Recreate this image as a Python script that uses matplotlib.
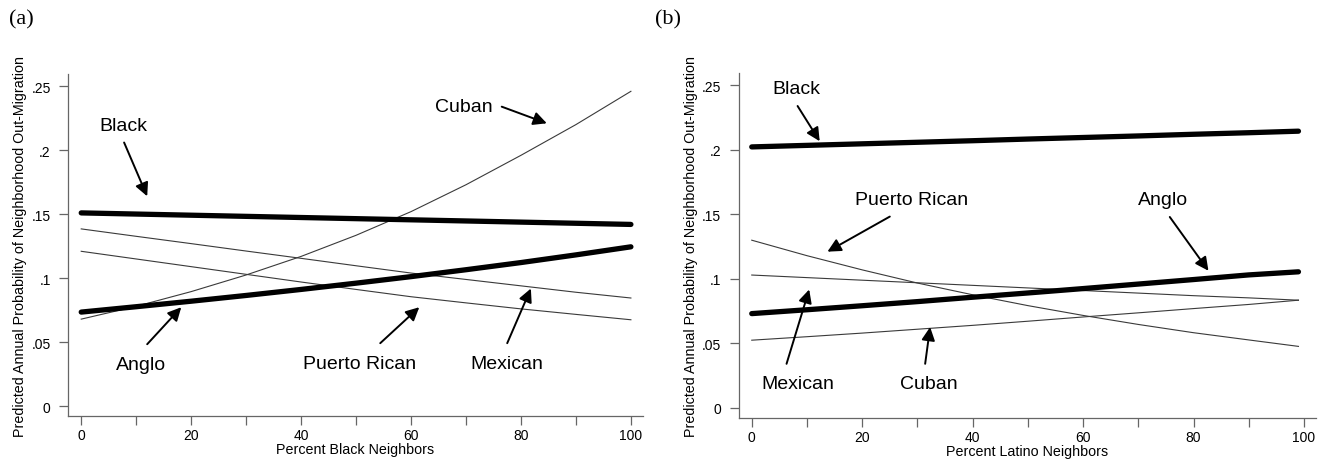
import matplotlib
matplotlib.use("Agg")
import matplotlib.pyplot as plt
from matplotlib.ticker import FixedLocator

plt.rcParams['font.family'] = ['Liberation Sans', 'DejaVu Sans']

# ---- data (a): Percent Black Neighbors ----
xa = [0, 10, 20, 30, 40, 50, 60, 70, 80, 90, 100]
a_black = [0.151, 0.1501, 0.1492, 0.1483, 0.1474, 0.1465, 0.1456, 0.1447, 0.1438, 0.1429, 0.142]
a_anglo = [0.0735, 0.0777, 0.082, 0.0865, 0.0912, 0.0961, 0.1012, 0.1066, 0.1122, 0.1182, 0.1245]
a_cuban = [0.068, 0.078, 0.0895, 0.1025, 0.117, 0.1335, 0.152, 0.173, 0.196, 0.220, 0.246]
a_mexican = [0.1385, 0.1327, 0.127, 0.1212, 0.1155, 0.1097, 0.104, 0.099, 0.094, 0.089, 0.0845]
a_puerto = [0.121, 0.115, 0.109, 0.103, 0.097, 0.0912, 0.0855, 0.0807, 0.076, 0.0717, 0.0675]

# ---- data (b): Percent Latino Neighbors ----
xb = [0, 10, 20, 30, 40, 50, 60, 70, 80, 90, 99]
b_black = [0.2023, 0.2035, 0.2047, 0.2059, 0.2071, 0.2084, 0.2096, 0.2108, 0.2121, 0.2133, 0.2145]
b_anglo = [0.0731, 0.0761, 0.0792, 0.0824, 0.0858, 0.0891, 0.0925, 0.096, 0.0995, 0.1031, 0.1055]
b_mexican = [0.103, 0.101, 0.099, 0.097, 0.095, 0.093, 0.091, 0.089, 0.087, 0.0853, 0.0835]
b_puerto = [0.130, 0.118, 0.107, 0.0968, 0.0877, 0.0793, 0.0717, 0.0647, 0.0583, 0.0527, 0.0477]
b_cuban = [0.0525, 0.0552, 0.058, 0.061, 0.064, 0.0672, 0.0705, 0.0737, 0.077, 0.0802, 0.0835]

yticks = [0, 0.05, 0.10, 0.15, 0.20, 0.25]
ytick_labels = ['0', '.05', '.1', '.15', '.2', '.25']
xticks = [0, 20, 40, 60, 80, 100]
xtick_labels = ['0', '20', '40', '60', '80', '100']
xminor = [10, 30, 50, 70, 90]

THICK = 3.8
THIN = 0.8
THIN_C = '#3a3a3a'
LBL = 14

fig = plt.figure(figsize=(13.34, 4.64), dpi=100)
axa = fig.add_axes([0.051, 0.101, 0.431, 0.737])
axb = fig.add_axes([0.5536, 0.097, 0.433, 0.743])


def style(ax, xlabel):
    ax.set_xlim(-2.4, 102.2)
    ax.set_ylim(-0.0078, 0.2594)
    for s in ['top', 'right']:
        ax.spines[s].set_visible(False)
    for s in ['left', 'bottom']:
        ax.spines[s].set_color('#666666')
        ax.spines[s].set_linewidth(0.9)
    ax.set_yticks(yticks)
    ax.set_yticklabels(ytick_labels)
    ax.xaxis.set_major_locator(FixedLocator(xticks))
    ax.set_xticklabels(xtick_labels)
    ax.xaxis.set_minor_locator(FixedLocator(xminor))
    ax.tick_params(axis='both', which='both', direction='out', length=6.5,
                   width=0.9, color='#666666', labelsize=10, pad=2)
    ax.tick_params(axis='y', pad=6)
    ax.set_xlabel(xlabel, fontsize=10.3, labelpad=0)
    ax.set_ylabel('Predicted Annual Probability of Neighborhood Out-Migration',
                  fontsize=10.3, labelpad=3)


def note(ax, text, tx, ty, sx, sy, ex, ey):
    ax.text(tx, ty, text, fontsize=LBL, ha='center', va='center')
    ax.annotate('', xy=(ex, ey), xytext=(sx, sy),
                arrowprops=dict(arrowstyle='-|>', mutation_scale=20, lw=1.4,
                                color='black', shrinkA=0, shrinkB=0))


# panel (a)
axa.plot(xa, a_cuban, color=THIN_C, lw=THIN)
axa.plot(xa, a_mexican, color=THIN_C, lw=THIN)
axa.plot(xa, a_puerto, color=THIN_C, lw=THIN)
axa.plot(xa, a_black, color='black', lw=THICK, solid_capstyle='round')
axa.plot(xa, a_anglo, color='black', lw=THICK, solid_capstyle='round')
style(axa, 'Percent Black Neighbors')
note(axa, 'Black', 7.6, 0.219, 7.8, 0.206, 12.0, 0.164)
note(axa, 'Cuban', 69.6, 0.234, 76.5, 0.234, 84.7, 0.221)
note(axa, 'Anglo', 10.9, 0.0328, 12.0, 0.0484, 18.2, 0.0773)
note(axa, 'Puerto Rican', 50.7, 0.0336, 54.4, 0.0492, 61.5, 0.0773)
note(axa, 'Mexican', 77.5, 0.0336, 77.5, 0.0492, 81.8, 0.0919)

# panel (b)
axb.plot(xb, b_puerto, color=THIN_C, lw=THIN)
axb.plot(xb, b_mexican, color=THIN_C, lw=THIN)
axb.plot(xb, b_cuban, color=THIN_C, lw=THIN)
axb.plot(xb, b_black, color='black', lw=THICK, solid_capstyle='round')
axb.plot(xb, b_anglo, color='black', lw=THICK, solid_capstyle='round')
style(axb, 'Percent Latino Neighbors')
note(axb, 'Black', 8.1, 0.2475, 8.3, 0.234, 12.3, 0.2067)
note(axb, 'Puerto Rican', 29.0, 0.1619, 25.0, 0.1483, 13.7, 0.1211)
note(axb, 'Anglo', 74.5, 0.1619, 75.7, 0.148, 82.7, 0.1063)
note(axb, 'Mexican', 8.3, 0.0191, 6.3, 0.0342, 10.4, 0.0918)
note(axb, 'Cuban', 32.1, 0.0191, 31.4, 0.0342, 32.3, 0.0627)

fig.text(21 / 1334, 1 - 20 / 464, '(a)', family=['Liberation Serif', 'DejaVu Serif'],
         fontsize=16, ha='center', va='center')
fig.text(667.5 / 1334, 1 - 20 / 464, '(b)', family=['Liberation Serif', 'DejaVu Serif'],
         fontsize=16, ha='center', va='center')

fig.savefig('out.png', dpi=100)
